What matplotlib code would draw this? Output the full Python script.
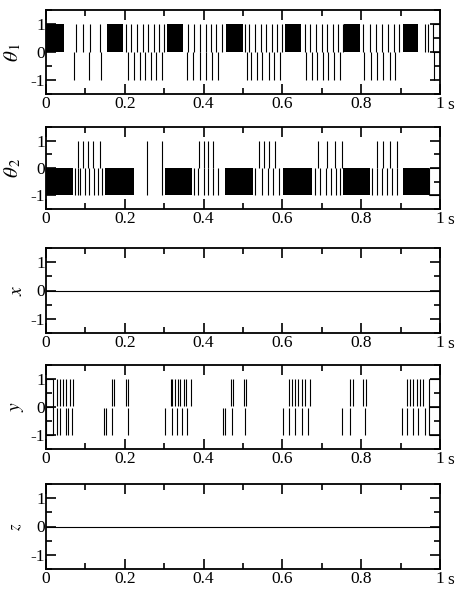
import matplotlib
matplotlib.use("Agg")
import matplotlib.pyplot as plt
from matplotlib.ticker import MultipleLocator

plt.rcParams["font.family"] = ["Liberation Serif", "DejaVu Serif"]
plt.rcParams["mathtext.fontset"] = "stix"

# ---- data (time in s) ----
# theta_1: dense chattering blocks between 0 and 1, spikes up (0..1) and down (0..-1)
th1_block_start = [0.000, 0.154, 0.306, 0.457, 0.607, 0.756, 0.907]
th1_block_end = [0.046, 0.195, 0.347, 0.500, 0.647, 0.797, 0.945]
th1_up = [0.076, 0.094, 0.112, 0.137,
          0.203, 0.217, 0.232, 0.246, 0.259, 0.273, 0.287, 0.299,
          0.361, 0.376, 0.391, 0.405, 0.418, 0.431, 0.446,
          0.505, 0.516, 0.531, 0.545, 0.558, 0.573, 0.586, 0.598,
          0.657, 0.670, 0.685, 0.700, 0.714, 0.728, 0.742, 0.753,
          0.805, 0.822, 0.838, 0.852, 0.869, 0.883, 0.897,
          0.962, 0.970]
th1_dn = [0.072, 0.109, 0.140,
          0.209, 0.223, 0.238, 0.252, 0.266, 0.280, 0.294,
          0.357, 0.374, 0.391, 0.405, 0.421, 0.437,
          0.509, 0.521, 0.535, 0.549, 0.565, 0.578, 0.593,
          0.659, 0.674, 0.689, 0.703, 0.717, 0.731, 0.746,
          0.808, 0.825, 0.841, 0.856, 0.872, 0.886,
          0.986]
th1_end_box = [0.981, 1.0]

# theta_2: blocks between -1 and 0
th2_block_start = [0.000, 0.150, 0.302, 0.454, 0.602, 0.755, 0.905]
th2_block_end = [0.069, 0.223, 0.370, 0.526, 0.674, 0.822, 0.973]
th2_up = [0.082, 0.095, 0.107, 0.120, 0.137,
          0.389, 0.401, 0.412, 0.425,
          0.541, 0.554, 0.567, 0.581,
          0.691, 0.712, 0.733, 0.751,
          0.839, 0.856, 0.873, 0.890]
th2_dn = [0.074, 0.080, 0.086, 0.099, 0.110, 0.122, 0.133, 0.141,
          0.376, 0.387, 0.401, 0.412, 0.425, 0.437,
          0.530, 0.547, 0.564, 0.577, 0.592,
          0.683, 0.695, 0.710, 0.724, 0.737, 0.746,
          0.827, 0.839, 0.852, 0.865, 0.878, 0.890]
th2_full = [0.256, 0.294]
th2_end_box = [0.973, 1.0]

# sliding variables
x_flat = [0.0, 1.0]
x_vals = [0.0, 0.0]
z_flat = [0.0, 1.0]
z_vals = [0.0, 0.0]

y_up = [0.027, 0.036, 0.044, 0.052, 0.061, 0.068,
        0.167, 0.173, 0.203, 0.209,
        0.316, 0.321, 0.327, 0.335, 0.341, 0.350, 0.355, 0.368,
        0.469, 0.474, 0.503, 0.508,
        0.618, 0.624, 0.632, 0.640, 0.649, 0.657, 0.670,
        0.772, 0.778, 0.805, 0.812,
        0.915, 0.924, 0.932, 0.941, 0.949, 0.958]
y_dn = [0.027, 0.036, 0.051, 0.057, 0.065,
        0.148, 0.152, 0.167, 0.207,
        0.302, 0.319, 0.332, 0.344, 0.357,
        0.450, 0.454, 0.471, 0.505,
        0.601, 0.618, 0.632, 0.649, 0.666,
        0.750, 0.772, 0.810,
        0.903, 0.915, 0.931, 0.945, 0.962]
y_start_box = [0.0, 0.019]
y_end_box = [0.972, 1.0]

W, H = 457, 589
fig = plt.figure(figsize=(W / 100, H / 100), dpi=100)

left, width = 46 / W, 394 / W
panels_px = [(10, 94), (127, 209), (248, 333), (365, 449), (484, 569)]
axes = []
for top, bot in panels_px:
    axes.append(fig.add_axes([left, 1 - bot / H, width, (bot - top) / H]))

LW = 0.8
TS = 12.5


def style(ax, label, lsize, lx):
    ax.set_xlim(0, 1)
    ax.set_ylim(-1.5, 1.5)
    ax.xaxis.set_major_locator(MultipleLocator(0.2))
    ax.xaxis.set_minor_locator(MultipleLocator(0.1))
    ax.yaxis.set_major_locator(MultipleLocator(1))
    ax.yaxis.set_minor_locator(MultipleLocator(0.5))
    ax.tick_params(which="both", direction="in", top=True, right=True,
                   width=1.2, labelsize=TS)
    ax.tick_params(which="major", length=7)
    ax.tick_params(which="minor", length=4)
    ax.tick_params(axis="y", pad=0.5)
    ax.tick_params(axis="x", pad=1.5)
    ax.set_xticks([0, 0.2, 0.4, 0.6, 0.8, 1.0])
    ax.set_xticklabels(["0", "0.2", "0.4", "0.6", "0.8", "1"])
    ax.set_yticks([-1, 0, 1])
    ax.set_yticklabels(["-1", "0", "1"])
    for s in ax.spines.values():
        s.set_linewidth(1.3)
    ax.annotate("s", xy=(1, 0), xycoords="axes fraction", xytext=(5, -2),
                textcoords="offset points", ha="left", va="top", fontsize=TS)
    ax.set_ylabel(label, fontsize=lsize, rotation=90)
    ax.yaxis.set_label_coords(lx, 0.5)


def blocks(ax, starts, ends, lo, hi):
    for s, e in zip(starts, ends):
        ax.fill_between([s, e], [lo, lo], [hi, hi], color="black", lw=0)


def box(ax, span, levels):
    for lv in levels:
        ax.hlines(lv, span[0], span[1], color="black", lw=LW)
    ax.vlines(span, min(levels), max(levels), color="black", lw=LW)


# theta_1
ax = axes[0]
blocks(ax, th1_block_start, th1_block_end, 0, 1)
ax.vlines(th1_up, 0, 1, color="black", lw=LW)
ax.vlines(th1_dn, 0, -1, color="black", lw=LW)
box(ax, th1_end_box, [0, 1])
style(ax, r"$\theta_{\,1}$", 15, -0.058)

# theta_2
ax = axes[1]
blocks(ax, th2_block_start, th2_block_end, -1, 0)
ax.vlines(th2_up, 0, 1, color="black", lw=LW)
ax.vlines(th2_dn, 0, -1, color="black", lw=LW)
ax.vlines(th2_full, -1, 1, color="black", lw=LW)
box(ax, th2_end_box, [-1, 0])
style(ax, r"$\theta_{\,2}$", 15, -0.058)

# x
ax = axes[2]
ax.plot(x_flat, x_vals, color="black", lw=LW)
style(ax, r"$x$", 14, -0.05)

# y
ax = axes[3]
ax.vlines(y_up, 0.05, 1, color="black", lw=LW)
ax.vlines(y_dn, -0.05, -1, color="black", lw=LW)
box(ax, y_start_box, [-1, 0, 1])
box(ax, y_end_box, [-1, 0, 1])
style(ax, r"$y$", 14, -0.05)

# z
ax = axes[4]
ax.plot(z_flat, z_vals, color="black", lw=LW)
style(ax, r"$z$", 12, -0.055)

fig.savefig("out.png", dpi=100)
